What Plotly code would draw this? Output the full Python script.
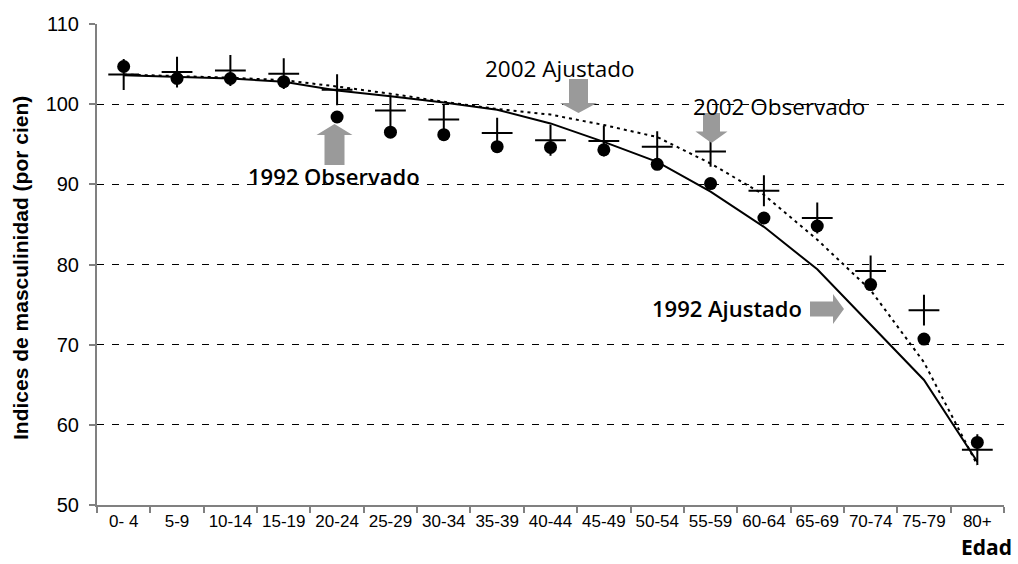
import plotly.graph_objects as go

# ---------------- data ----------------
edades = ["0- 4", "5-9", "10-14", "15-19", "20-24", "25-29", "30-34", "35-39",
          "40-44", "45-49", "50-54", "55-59", "60-64", "65-69", "70-74", "75-79", "80+"]

obs_1992 = [104.7, 103.2, 103.2, 102.8, 98.4, 96.5, 96.2, 94.7, 94.6, 94.3,
            92.5, 90.1, 85.8, 84.8, 77.5, 70.7, 57.8]
obs_2002 = [103.7, 104.0, 104.2, 103.8, 101.8, 99.2, 98.1, 96.4, 95.5, 95.4,
            94.7, 94.1, 89.2, 85.8, 79.2, 74.3, 56.9]
aju_1992 = [103.6, 103.4, 103.2, 102.8, 101.7, 101.0, 100.2, 99.3, 97.6, 95.3,
            92.8, 89.1, 84.7, 79.4, 72.5, 65.6, 55.4]
aju_2002 = [103.7, 103.5, 103.3, 103.0, 102.2, 101.3, 100.3, 99.4, 98.7, 97.4,
            95.9, 92.6, 88.7, 83.1, 76.8, 67.8, 55.0]

y_ticks = [50, 60, 70, 80, 90, 100, 110]

# ---------------- layout geometry (pixels) ----------------
W, H = 1018, 564
L, R, T, B = 97, 1004, 24, 505


def px(x):
    return (x - L) / (R - L)


def py(y):
    return (B - y) / (B - T)


fig = go.Figure()

fig.add_trace(go.Scatter(x=edades, y=aju_1992, mode="lines",
                         line=dict(color="black", width=2), name="1992 Ajustado"))
fig.add_trace(go.Scatter(x=edades, y=aju_2002, mode="lines",
                         line=dict(color="black", width=2, dash="3px,4px"), name="2002 Ajustado"))
fig.add_trace(go.Scatter(x=edades, y=obs_2002, mode="markers",
                         marker=dict(symbol="cross-thin", size=22, color="black",
                                     line=dict(color="black", width=2)),
                         name="2002 Observado"))
fig.add_trace(go.Scatter(x=edades, y=obs_1992, mode="markers",
                         marker=dict(symbol="circle", size=13, color="black"),
                         name="1992 Observado"))

# ---------------- block arrows ----------------
GRAY = "#9a9a9a"


def path_from(points):
    return "M " + " L ".join(f"{px(x):.5f},{py(y):.5f}" for x, y in points) + " Z"


def vertical_arrow(cx, y_tail, y_head_base, y_tip, shaft_w, head_w):
    s, h = shaft_w / 2, head_w / 2
    return [(cx - s, y_tail), (cx - s, y_head_base), (cx - h, y_head_base), (cx, y_tip),
            (cx + h, y_head_base), (cx + s, y_head_base), (cx + s, y_tail)]


def horizontal_arrow(cy, x_tail, x_head_base, x_tip, shaft_h, head_h):
    s, h = shaft_h / 2, head_h / 2
    return [(x_tail, cy - s), (x_head_base, cy - s), (x_head_base, cy - h), (x_tip, cy),
            (x_head_base, cy + h), (x_head_base, cy + s), (x_tail, cy + s)]


arrows = [
    vertical_arrow(334.5, 165, 135, 124, 20, 36),     # 1992 Observado (up)
    vertical_arrow(578.5, 79, 103, 113, 19, 37),      # 2002 Ajustado (down)
    vertical_arrow(711.5, 113, 131.5, 143, 17, 32),   # 2002 Observado (down)
    horizontal_arrow(309, 810, 833, 844, 15, 30),     # 1992 Ajustado (right)
]
shapes = [dict(type="path", xref="paper", yref="paper", path=path_from(pts),
               fillcolor=GRAY, line=dict(width=0), layer="above") for pts in arrows]

# ---------------- text labels ----------------
ann_font = "Open Sans, DejaVu Sans, sans-serif"
annotations = [
    dict(text="1992 Observado", x=px(334), y=py(176), font=dict(size=22, family=ann_font, weight=600)),
    dict(text="2002 Ajustado", x=px(559.5), y=py(69), font=dict(size=22.5, family=ann_font, weight=400)),
    dict(text="2002 Observado", x=px(779), y=py(106), font=dict(size=22.5, family=ann_font, weight=400)),
    dict(text="1992 Ajustado", x=px(726.5), y=py(308), font=dict(size=22, family=ann_font, weight=600)),
    dict(text="Edad", x=px(986), y=py(547), font=dict(size=21, family=ann_font, weight=700)),
    dict(text="Indices de masculinidad (por cien)", x=px(20), y=py(268), textangle=-90,
         font=dict(size=21, family="Liberation Sans, Arial, sans-serif", weight=700)),
]
for a in annotations:
    a.update(xref="paper", yref="paper", showarrow=False, xanchor="center", yanchor="middle")
    a["font"].setdefault("color", "black")

fig.update_layout(
    width=W, height=H,
    margin=dict(l=L, r=W - R, t=T, b=H - B, pad=0),
    paper_bgcolor="white", plot_bgcolor="white",
    showlegend=False,
    shapes=shapes,
    annotations=annotations,
    font=dict(family="Liberation Sans, Arial, sans-serif", color="black"),
)

fig.update_xaxes(
    type="category", categoryorder="array", categoryarray=edades,
    range=[-0.5, len(edades) - 0.5],
    showgrid=False, showline=True, linecolor="#808080", linewidth=2,
    ticks="outside", tickson="boundaries", ticklen=6, tickcolor="#808080", tickwidth=1.5,
    tickfont=dict(size=17, color="black"), zeroline=False,
)
fig.update_yaxes(
    range=[50, 110], tickvals=y_ticks, ticktext=[str(v) for v in y_ticks],
    showgrid=True, gridcolor="black", gridwidth=1, griddash="7px,8px",
    showline=True, linecolor="#808080", linewidth=2,
    ticks="outside", ticklen=6, tickcolor="#808080", tickwidth=1.5,
    tickfont=dict(size=20, color="black"), ticklabelstandoff=6, zeroline=False,
)

fig.write_html("out.html", config={"displayModeBar": False},
               post_script="document.body.style.margin='0';document.body.style.padding='0';")
